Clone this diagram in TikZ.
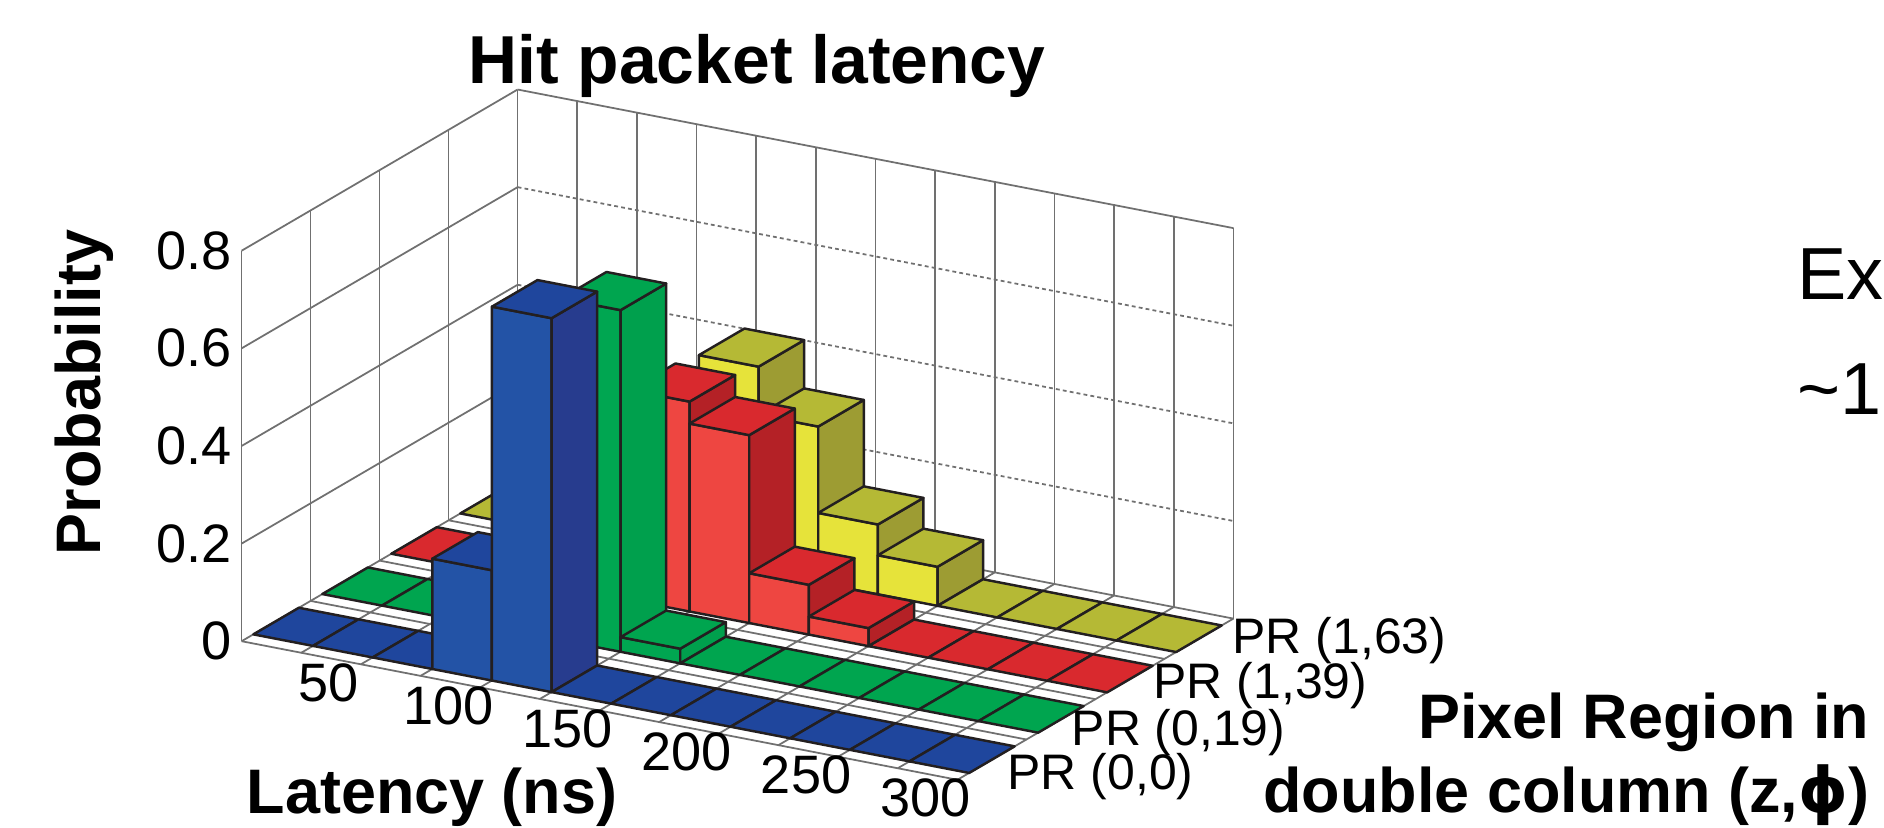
\documentclass[tikz,border=0pt]{standalone}
\usepackage{fontspec}
\setmainfont{Liberation Sans}
\newfontfamily\phifont{DejaVu Sans}
\definecolor{edgeC}{HTML}{231F20}
\definecolor{gridC}{HTML}{707070}
\definecolor{bluF}{HTML}{2353A6}
\definecolor{bluS}{HTML}{273C8E}
\definecolor{bluT}{HTML}{1F469D}
\definecolor{grnF}{HTML}{00A651}
\definecolor{grnS}{HTML}{00A04D}
\definecolor{grnT}{HTML}{00A54F}
\definecolor{redF}{HTML}{EE4641}
\definecolor{redS}{HTML}{B42126}
\definecolor{redT}{HTML}{D9292E}
\definecolor{yelF}{HTML}{E6E33A}
\definecolor{yelS}{HTML}{9D9C33}
\definecolor{yelT}{HTML}{B5B935}
\tikzset{
  barline/.style={draw=edgeC, line width=0.7pt, line join=round},
  gridline/.style={draw=gridC, line width=0.5pt},
  dotgrid/.style={draw=gridC, line width=0.5pt, dash pattern=on 1.1pt off 0.9pt},
  ticklab/.style={font=\fontsize{15.4pt}{18pt}\selectfont, inner sep=0pt},
  prlab/.style={font=\fontsize{14.2pt}{17pt}\selectfont, inner sep=0pt, anchor=base west},
  boldlab/.style={font=\fontsize{17.9pt}{21pt}\selectfont\bfseries, inner sep=0pt},
  biglab/.style={font=\fontsize{21pt}{25pt}\selectfont, inner sep=0pt, anchor=base west},
}
% one latency cell of a row: #1 = l, #2 = front depth, #3 = height, #4 = colour prefix
\newcommand\cellbar[4]{%
  \pgfmathsetmacro\lB{#1+1}%
  \pgfmathsetmacro\dB{#2+0.66}%
  \ifdim #3pt>0pt
    \filldraw[barline, fill=#4F] (#1,#2,0) -- (\lB,#2,0) -- (\lB,#2,#3) -- (#1,#2,#3) -- cycle;
    \filldraw[barline, fill=#4S] (\lB,#2,0) -- (\lB,\dB,0) -- (\lB,\dB,#3) -- (\lB,#2,#3) -- cycle;
  \fi
  \filldraw[barline, fill=#4T] (#1,#2,#3) -- (\lB,#2,#3) -- (\lB,\dB,#3) -- (#1,\dB,#3) -- cycle;
}
\begin{document}
\begin{tikzpicture}
\useasboundingbox (0,0) rectangle (18.84,8.27);
\begin{scope}[shift={(2.416cm,1.858cm)}, x={(0.5965cm,-0.1155cm)}, y={(0.69cm,0.403cm)}, z={(0cm,4.881cm)}]
  % floor grid
  \foreach \k in {0,...,12} \draw[gridline] (\k,0,0) -- (\k,4,0);
  \foreach \k in {0,...,4} \draw[gridline] (0,\k,0) -- (12,\k,0);
  % left wall
  \foreach \k in {0,...,4} \draw[gridline] (0,\k,0) -- (0,\k,0.8);
  \foreach \v in {0.2,0.4,0.6,0.8} \draw[gridline] (0,0,\v) -- (0,4,\v);
  % back wall
  \foreach \k in {0,...,12} \draw[gridline] (\k,4,0) -- (\k,4,0.8);
  \foreach \v in {0.2,0.4,0.6} \draw[dotgrid] (0,4,\v) -- (12,4,\v);
  \draw[gridline] (0,4,0.8) -- (12,4,0.8);
  % rows, back to front
  \foreach \h [count=\i from 0] in {0,0,0,0,0.419,0.32,0.143,0.08,0,0,0,0} {\cellbar{\i}{3.17}{\h}{yel}}
  \foreach \h [count=\i from 0] in {0,0,0,0,0.43,0.385,0.102,0.037,0,0,0,0} {\cellbar{\i}{2.17}{\h}{red}}
  \foreach \h [count=\i from 0] in {0,0,0,0,0.70,0.03,0,0,0,0,0,0} {\cellbar{\i}{1.17}{\h}{grn}}
  \foreach \h [count=\i from 0] in {0,0,0,0.226,0.766,0,0,0,0,0,0,0} {\cellbar{\i}{0.17}{\h}{blu}}
  % probability ticks
  \node[ticklab, anchor=east, xshift=-0.096cm] (yt0) at (0,0,0) {0};
  \node[ticklab, anchor=east, xshift=-0.096cm] (yt2) at (0,0,0.2) {0.2};
  \node[ticklab, anchor=east, xshift=-0.096cm] (yt4) at (0,0,0.4) {0.4};
  \node[ticklab, anchor=east, xshift=-0.096cm] (yt6) at (0,0,0.6) {0.6};
  \node[ticklab, anchor=east, xshift=-0.096cm] (yt8) at (0,0,0.8) {0.8};
  % latency ticks
  \node[ticklab, xshift=-0.32cm, yshift=-0.185cm] (xt50) at (2,0,0) {50};
  \node[ticklab, xshift=-0.32cm, yshift=-0.185cm] (xt100) at (4,0,0) {100};
  \node[ticklab, xshift=-0.32cm, yshift=-0.185cm] (xt150) at (6,0,0) {150};
  \node[ticklab, xshift=-0.32cm, yshift=-0.185cm] (xt200) at (8,0,0) {200};
  \node[ticklab, xshift=-0.32cm, yshift=-0.185cm] (xt250) at (10,0,0) {250};
  \node[ticklab, xshift=-0.32cm, yshift=-0.185cm] (xt300) at (12,0,0) {300};
\end{scope}
% region labels
\node[prlab] (pr163) at (12.32,1.74) {PR (1,63)};
\node[prlab] (pr139) at (11.53,1.29) {PR (1,39)};
\node[prlab] (pr019) at (10.71,0.82) {PR (0,19)};
\node[prlab] (pr00) at (10.07,0.38) {PR (0,0)};
% titles and axis labels
\node[boldlab, font=\fontsize{19.3pt}{23pt}\selectfont\bfseries, anchor=base] (title) at (7.57,7.44) {Hit packet latency};
\node[boldlab, rotate=90, anchor=base] (ylab) at (1.00,4.345) {Probability};
\node[boldlab, anchor=base west] (xlab) at (2.46,0.14) {Latency (ns)};
\node[boldlab, anchor=base east] (zlab1) at (18.70,0.89) {Pixel Region in};
\node[boldlab, anchor=base east] (zlab2) at (18.70,0.15) {double column (z,{\phifont\bfseries ϕ})};
% text at the right edge
\node[biglab] (ex) at (17.97,5.28) {Ex};
\node[biglab] (tilde) at (17.97,4.13) {\textasciitilde 1};
\end{tikzpicture}
\end{document}
